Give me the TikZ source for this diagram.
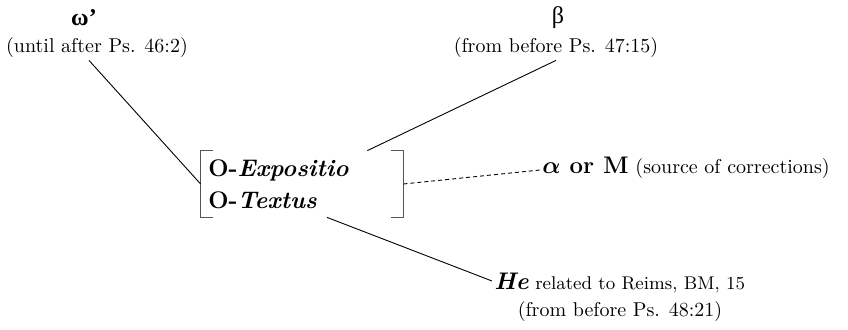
\documentclass[tikz,border=0pt]{standalone}
\usepackage{amsmath,amssymb,bm}
\usepackage{fontspec}
\newfontfamily\greekfont{Liberation Serif}
\usetikzlibrary{positioning,calc}
\definecolor{bracketC}{HTML}{555555}
\tikzset{
  sigla/.style={font=\large\greekfont,inner sep=0pt},
  note/.style={font=\normalsize,inner sep=0pt},
  linkLine/.style={line width=0.45pt},
  corrLine/.style={line width=0.45pt,dash pattern=on 2pt off 1.5pt},
  bracketLine/.style={draw=bracketC,line width=0.7pt},
}

\begin{document}
\begin{tikzpicture}[x=0.5pt,y=-0.5pt]
\useasboundingbox (0,0) rectangle (848,330);
\node[sigla] (omega) at (84,18) {\bfseries ω’};
\node[note] (omegaNote) at (97,48) {(until after Ps. 46:2)};
\node[sigla] (beta) at (558,18) {β};
\node[note] (betaNote) at (556,48) {(from before Ps. 47:15)};
\node[minimum width=101pt,minimum height=33pt,inner sep=0pt] (core) at (302,184) {};
\node[font=\large\bfseries,align=left,anchor=west,inner sep=0pt] (coreText) at (208,184) {%
  O-\textit{Expositio}\\[2pt]
  O-\textit{Textus}};
\node[anchor=west,inner sep=0pt] (corr) at (542,168) {%
  {\large\bfseries$\bm{\alpha}$ or M} (source of corrections)};
\node[anchor=west,inner sep=0pt] (he) at (494,283) {%
  {\large\bfseries\itshape He} {\fontsize{9.2}{11}\selectfont related to Reims, BM, 15}};
\node[note] (heNote) at (620,312) {(from before Ps. 48:21)};
% brackets round the O pair
\draw[bracketLine] ([xshift=6pt]core.north west) -- (core.north west) -- (core.south west) -- ([xshift=6pt]core.south west);
\draw[bracketLine] ([xshift=-6pt]core.north east) -- (core.north east) -- (core.south east) -- ([xshift=-6pt]core.south east);
% connectors
\draw[linkLine] ([xshift=-4pt,yshift=-1pt]omegaNote.south) -- (core.west);
\draw[linkLine] ([yshift=-1pt]betaNote.south) -- ([xshift=-18pt]core.north east);
\draw[corrLine] (core.east) -- ([xshift=-1pt,yshift=-1pt]corr.west);
\draw[linkLine] ([xshift=12.5pt]core.south) -- ([xshift=-1pt,yshift=1pt]he.west);
\end{tikzpicture}
\end{document}
